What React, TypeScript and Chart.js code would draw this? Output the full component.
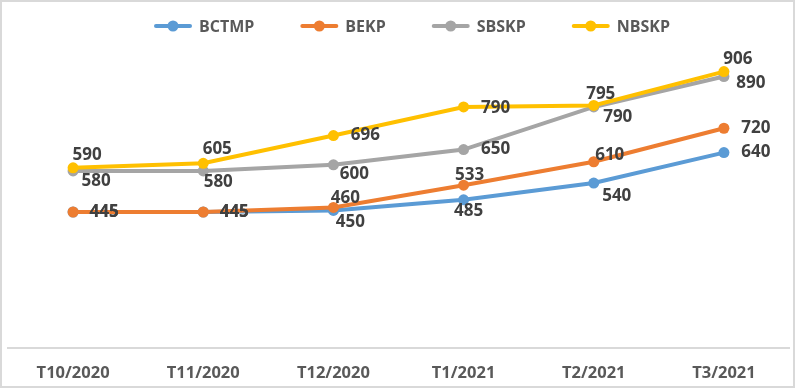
import React, { useEffect, useRef } from "react";
import { Chart, registerables } from "chart.js";

Chart.register(...registerables);

const categories = ["T10/2020", "T11/2020", "T12/2020", "T1/2021", "T2/2021", "T3/2021"];
const seriesNames = ["BCTMP", "BEKP", "SBSKP", "NBSKP"];
const bctmp = [445, 445, 450, 485, 540, 640];
const bekp = [445, 445, 460, 533, 610, 720];
const sbskp = [580, 580, 600, 650, 790, 890];
const nbskp = [590, 605, 696, 790, 795, 906];
const colors = ["#5B9BD5", "#ED7D31", "#A5A5A5", "#FFC000"];

// label offsets (dx, dy) from each point, per series
const labelOffsets: [number, number][][] = [
  [[31, 0], [31, 0], [17, 12], [5, 11], [23, 13], [32, 0]],
  [[31, 0], [31, 0], [12, -9], [6, -10], [16, -7], [32, 0]],
  [[23, 10], [15, 11], [21, 9], [32, 0], [24, 10], [27, 7]],
  [[14, -13], [14, -14], [32, 0], [32, 1], [7, -11], [14, -12]],
];

const FONT = "'Open Sans', 'Liberation Sans', sans-serif";

const extrasPlugin = {
  id: "extras",
  beforeDraw(chart: any) {
    const ctx = chart.ctx;
    ctx.save();
    ctx.fillStyle = "#ffffff";
    ctx.fillRect(0, 0, chart.width, chart.height);
    ctx.strokeStyle = "#D9D9D9";
    ctx.lineWidth = 2;
    ctx.strokeRect(1, 1, chart.width - 3, chart.height - 3);
    ctx.restore();
  },
  afterDatasetsDraw(chart: any) {
    const ctx = chart.ctx;
    ctx.save();
    ctx.font = `bold 17px ${FONT}`;
    ctx.fillStyle = "#404040";
    ctx.textAlign = "center";
    ctx.textBaseline = "middle";
    chart.data.datasets.forEach((ds: any, di: number) => {
      const meta = chart.getDatasetMeta(di);
      meta.data.forEach((pt: any, i: number) => {
        const [dx, dy] = labelOffsets[di][i];
        ctx.fillText(String(ds.data[i]), pt.x + dx, pt.y + dy);
      });
    });
    // legend
    ctx.font = `bold 16px ${FONT}`;
    ctx.textAlign = "left";
    const lineLen = 38;
    const gapText = 7;
    const gapItem = 46;
    const widths = chart.data.datasets.map((ds: any) => ctx.measureText(ds.label).width);
    const total = widths.reduce((a: number, w: number) => a + lineLen + gapText + w, 0) + gapItem * (widths.length - 1);
    let x = 412 - total / 2;
    const y = 26;
    chart.data.datasets.forEach((ds: any, di: number) => {
      ctx.strokeStyle = ds.borderColor;
      ctx.lineWidth = 4;
      ctx.lineCap = "round";
      ctx.beginPath();
      ctx.moveTo(x + 2, y);
      ctx.lineTo(x + lineLen - 2, y);
      ctx.stroke();
      ctx.fillStyle = ds.borderColor;
      ctx.beginPath();
      ctx.arc(x + lineLen / 2, y, 5.5, 0, Math.PI * 2);
      ctx.fill();
      ctx.fillStyle = "#595959";
      ctx.fillText(ds.label, x + lineLen + gapText, y + 1);
      x += lineLen + gapText + widths[di] + gapItem;
    });
    ctx.restore();
  },
};

export default function App() {
  const ref = useRef<HTMLCanvasElement>(null);
  useEffect(() => {
    document.body.style.margin = "0";
    const series = [bctmp, bekp, sbskp, nbskp];
    const chart = new Chart(ref.current!, {
      type: "line",
      data: {
        labels: categories,
        datasets: series.map((d, i) => ({
          label: seriesNames[i],
          data: d,
          borderColor: colors[i],
          backgroundColor: colors[i],
          borderWidth: 4,
          pointRadius: 5.5,
          pointBorderWidth: 0,
          pointBackgroundColor: colors[i],
          tension: 0,
          order: 3 - i,
        })),
      },
      options: {
        animation: false,
        responsive: false,
        layout: { padding: { left: 8, right: 7, top: 43, bottom: 0 } },
        plugins: { legend: { display: false }, tooltip: { enabled: false } },
        scales: {
          x: {
            offset: true,
            grid: { display: false },
            border: { color: "#D9D9D9", width: 2 },
            afterFit: (scale: any) => {
              scale.height = 41.5;
            },
            ticks: {
              color: "#595959",
              font: { family: FONT, size: 16.5, weight: "bold" },
              padding: 8,
              maxRotation: 0,
            },
          },
          y: { display: false, min: 0, max: 1000 },
        },
      },
      plugins: [extrasPlugin],
    });
    return () => chart.destroy();
  }, []);
  return (
    <div style={{ width: 796, height: 389 }}>
      <canvas ref={ref} width={796} height={389} style={{ display: "block" }} />
    </div>
  );
}
